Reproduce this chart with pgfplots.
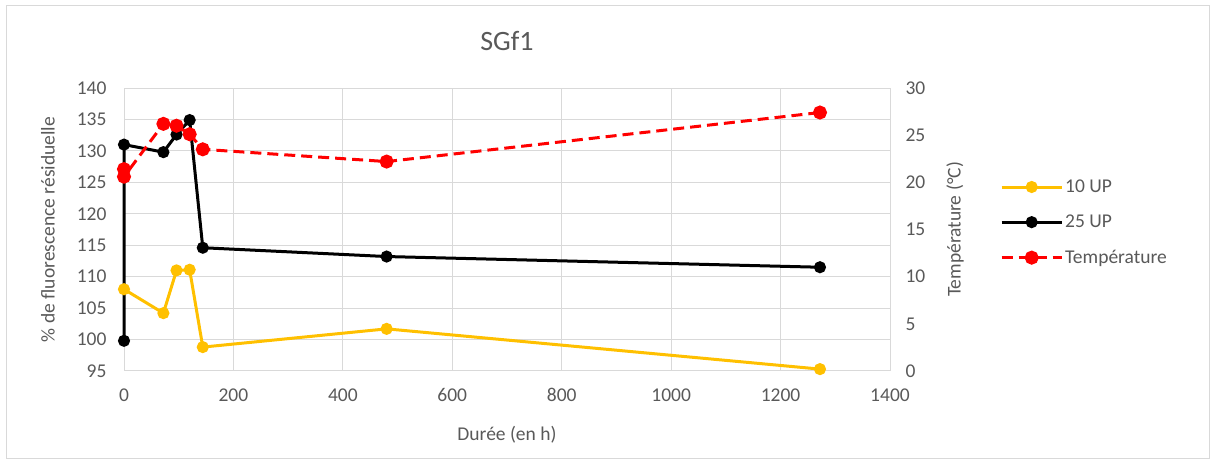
\documentclass[border=0pt]{standalone}
\usepackage{fontspec}
\setmainfont{Carlito}
\usepackage{pgfplots}
\pgfplotsset{compat=1.18}
\definecolor{txt}{HTML}{595959}
\definecolor{gridc}{HTML}{D9D9D9}
\definecolor{gold}{HTML}{FFC000}
\definecolor{redt}{HTML}{FF0000}
\begin{document}
\begin{tikzpicture}[x=1pt,y=1pt]
\useasboundingbox (0,0) rectangle (1213,463);
\draw[gridc, line width=1pt] (6,4) rectangle (1209,457);
\pgfplotsset{
  common/.style={
    at={(124pt,92pt)}, anchor=south west, scale only axis,
    width=766pt, height=283pt,
    xmin=0, xmax=1400,
    tick style={draw=none},
    ticklabel style={font=\fontsize{19.5}{19.5}\selectfont, text=txt},
    label style={font=\fontsize{19.5}{19.5}\selectfont, text=txt},
    /pgf/number format/assume math mode=true,
    /pgf/number format/1000 sep={},
    clip=false,
  }
}
\begin{axis}[common,
  ymin=95, ymax=140,
  xtick={0,200,...,1400}, ytick={95,100,...,140},
  grid=major, grid style={gridc, line width=1pt},
  axis line style={draw=none},
  xticklabel style={yshift=-14pt},
  yticklabel style={xshift=-14pt},
  xlabel={Durée (en h)},
  xlabel style={at={(axis description cs:0.5,-0.226)}, anchor=center},
  ylabel={\% de fluorescence résiduelle},
  ylabel style={at={(axis description cs:-0.0992,0.5)}, anchor=center},
  title={SGf1},
  title style={at={(axis description cs:0.5,1.145)}, anchor=center, font=\fontsize{28}{28}\selectfont, text=txt},
]
\addplot[gold, line width=3pt, mark=*, mark size=4.5pt] coordinates {
 (0,108.0) (72,104.2) (96,111.0) (120,111.1) (144,98.8) (480,101.7) (1272,95.3)
};
\addplot[black, line width=3pt, mark=*, mark size=4.5pt] coordinates {
 (0,99.8) (0,131.0) (72,129.8) (96,132.6) (120,134.9) (144,114.6) (480,113.2) (1272,111.5)
};
\end{axis}
\begin{axis}[common,
  ymin=0, ymax=30, ytick={0,5,...,30},
  axis x line=none, axis y line*=right,
  axis line style={draw=none},
  xtick=\empty,
  yticklabel style={xshift=12pt},
  ylabel={Température (°C)},
  ylabel style={at={(axis description cs:1.0849,0.5)}, anchor=center, rotate=0},
  legend style={at={(axis description cs:1.1436,0.69)}, anchor=north west, draw=none, fill=none,
    font=\fontsize{19.5}{19.5}\selectfont, text=txt, row sep=17pt, cells={anchor=west},
    inner xsep=0pt},
  legend image code/.code={\draw[mark repeat=2,mark phase=2,#1] plot coordinates {(0pt,0pt) (30pt,0pt) (60pt,0pt)};},
]
\addlegendimage{gold, line width=3pt, mark=*, mark size=4.5pt}
\addlegendentry{10 UP}
\addlegendimage{black, line width=3pt, mark=*, mark size=4.5pt}
\addlegendentry{25 UP}
\addplot[redt, line width=3pt, dash pattern=on 11pt off 6pt, mark=*, mark size=5.5pt, mark options={solid}] coordinates {
 (0,21.4) (0,20.6) (72,26.2) (96,26.0) (120,25.1) (144,23.5) (480,22.2) (1272,27.4)
};
\addlegendentry{Température}
\end{axis}
\end{tikzpicture}
\end{document}
